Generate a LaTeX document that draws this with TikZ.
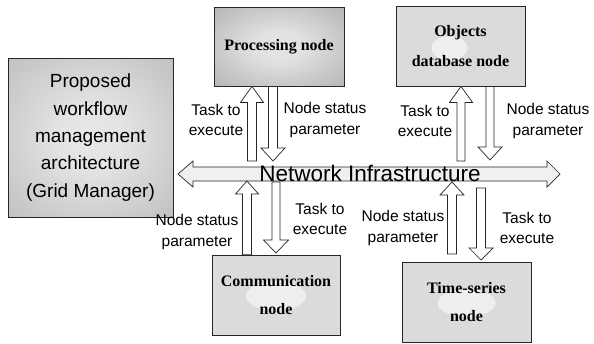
\documentclass[tikz,border=0pt]{standalone}
\usepackage{fontspec}
\setmainfont{Liberation Sans}
\newfontfamily\boxfont{Liberation Serif}
\usetikzlibrary{calc}

% soft radial glows used for the box fills
\pgfdeclareradialshading{mgrglow}{\pgfpointorigin}{rgb(0bp)=(0.91,0.91,0.91); rgb(10bp)=(0.89,0.89,0.89); rgb(46bp)=(0.70,0.70,0.70); rgb(50bp)=(0.68,0.68,0.68)}
\pgfdeclareradialshading{procglow}{\pgfpointorigin}{rgb(0bp)=(0.90,0.90,0.90); rgb(10bp)=(0.88,0.88,0.88); rgb(46bp)=(0.64,0.64,0.64); rgb(50bp)=(0.62,0.62,0.62)}
\pgfdeclareradialshading{blobshade}{\pgfpointorigin}{rgb(0bp)=(0.94,0.94,0.94); rgb(15bp)=(0.93,0.93,0.93); rgb(25bp)=(0.86,0.86,0.86); rgb(50bp)=(0.86,0.86,0.86)}
\definecolor{boxgray}{rgb}{0.86,0.86,0.86}
\definecolor{netfill}{rgb}{0.94,0.94,0.94}

% hollow vertical block arrow: tip, tail, half shaft, half head, head length
\newcommand\blockarrow[5]{%
  \draw[blk] let \p1=(#1), \p2=(#2), \p3=($(#1)!#5!(#2)$) in
    (\x1,\y1) -- (\x1+#4,\y3) -- (\x1+#3,\y3) -- (\x1+#3,\y2)
    -- (\x1-#3,\y2) -- (\x1-#3,\y3) -- (\x1-#4,\y3) -- cycle;}

\begin{document}
\begin{tikzpicture}[x=1pt,y=-1pt,
  box/.style={draw=black!85, line width=0.8pt, inner sep=0pt, align=center},
  nodetext/.style={font=\boxfont\bfseries\fontsize{16}{28}\selectfont},
  lbl/.style={inner sep=0pt, align=center, font=\fontsize{15.5}{20.5}\selectfont},
  blk/.style={draw=black!85, line width=0.7pt, fill=white, line join=miter},
  netline/.style={draw=black!85, line width=0.7pt, fill=netfill, line join=miter},
]
\useasboundingbox (0,0) rectangle (594,343);

% network backbone (double block arrow)
\coordinate (netL) at (178,174);
\coordinate (netR) at (560,174);
\draw[netline] (netL) -- (193,161) -- (193,167) -- (547,167) -- (547,161) -- (netR)
  -- (547,187) -- (547,181) -- (193,181) -- (193,187) -- cycle;

% boxes
\node[box, minimum width=165pt, minimum height=159pt, shade, shading=mgrglow,
      font=\fontsize{19}{27.4}\selectfont] (mgr) at (90.5,137.5)
  {Proposed\\workflow\\management\\architecture\\(Grid Manager)};
\node[box, nodetext, minimum width=130pt, minimum height=79pt, shade, shading=procglow]
  (proc) at (279,46.5) {\raisebox{-2pt}{Processing node}};
\node[box, nodetext, fill=boxgray, minimum width=129pt, minimum height=80pt,
      path picture={\shade[shading=blobshade] ($(path picture bounding box.center)+(-11,2)$)
        ellipse [x radius=18pt, y radius=12pt];},
      font=\boxfont\bfseries\fontsize{16}{30}\selectfont]
  (obj) at (460.5,46) {Objects\\database node};
\node[box, nodetext, fill=boxgray, minimum width=128pt, minimum height=80pt,
      path picture={\shade[shading=blobshade] ($(path picture bounding box.center)+(0,1)$)
        ellipse [x radius=30pt, y radius=15pt];}]
  (comm) at (276,295) {Communication\\node};
\node[box, nodetext, fill=boxgray, minimum width=129pt, minimum height=80pt,
      path picture={\shade[shading=blobshade] ($(path picture bounding box.center)+(0,1)$)
        ellipse [x radius=29pt, y radius=14pt];}]
  (ts) at (466.5,302) {Time-series\\node};

% anchor points of the block arrows
\coordinate (a1h) at (proc.south -| 252,0);  \coordinate (a1t) at (252,161);
\coordinate (a2h) at (273,161);              \coordinate (a2t) at (proc.south -| 273,0);
\coordinate (a3h) at (obj.south -| 461,0);   \coordinate (a3t) at (461,161);
\coordinate (a4h) at (490,160);              \coordinate (a4t) at (obj.south -| 490,0);
\coordinate (a5h) at (247,181);              \coordinate (a5t) at (comm.north -| 247,0);
\coordinate (a6h) at (276,253);              \coordinate (a6t) at (276,182);
\coordinate (a7h) at (452,182);              \coordinate (a7t) at (452,254);
\coordinate (a8h) at (481,260);              \coordinate (a8t) at (481,188);

\blockarrow{a1h}{a1t}{4.5pt}{11.5pt}{16pt}
\blockarrow{a2h}{a2t}{4.5pt}{12pt}{13pt}
\blockarrow{a3h}{a3t}{4pt}{11.5pt}{16pt}
\blockarrow{a4h}{a4t}{4pt}{12pt}{13pt}
\blockarrow{a5h}{a5t}{4.5pt}{11.5pt}{13pt}
\blockarrow{a6h}{a6t}{4pt}{12.5pt}{13pt}
\blockarrow{a7h}{a7t}{4.5pt}{12pt}{13pt}
\blockarrow{a8h}{a8t}{4.5pt}{12pt}{12pt}

% backbone label
\node[inner sep=0pt, font=\fontsize{22.5}{24}\selectfont] (net) at (370,173) {Network Infrastructure};

% arrow labels
\node[lbl] (l1) at (216,120) {Task to\\execute};
\node[lbl] (l2) at (325,120) {Node status\\parameter};
\node[lbl] (l3) at (425,121) {Task to\\execute};
\node[lbl] (l4) at (548,121) {Node status\\parameter};
\node[lbl] (l5) at (197,232) {Node status\\parameter};
\node[lbl] (l6) at (320,219) {Task to\\execute};
\node[lbl] (l7) at (403,228) {Node status\\parameter};
\node[lbl] (l8) at (527,228) {Task to\\execute};
\end{tikzpicture}
\end{document}
